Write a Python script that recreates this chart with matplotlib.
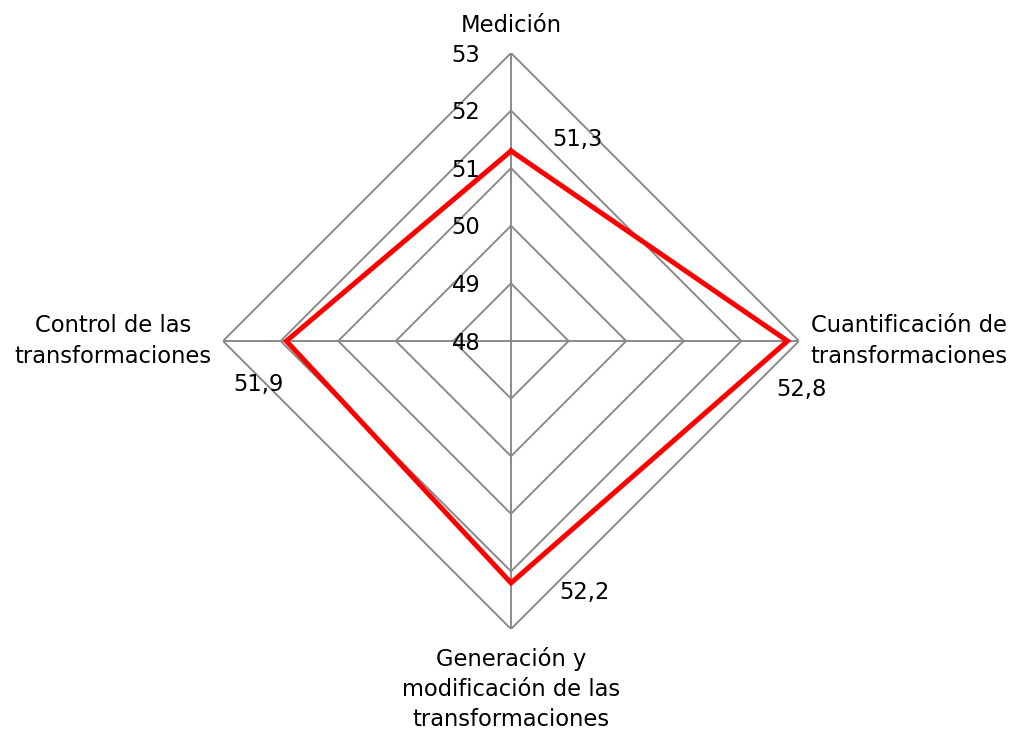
import matplotlib
matplotlib.use("Agg")
import matplotlib.pyplot as plt
import numpy as np

# categories clockwise from top
categories = ["Medición",
              "Cuantificación de\ntransformaciones",
              "Generación y\nmodificación de las\ntransformaciones",
              "Control de las\ntransformaciones"]
values = [51.3, 52.8, 52.2, 51.9]
value_labels = ["51,3", "52,8", "52,2", "51,9"]
levels = [49, 50, 51, 52, 53]
r_min, r_max = 48, 53

plt.rcParams['font.family'] = ['DejaVu Sans']
fs = 16.3

fig = plt.figure(figsize=(10.13, 7.31), dpi=100)
ax = fig.add_axes([223 / 1013, 102 / 731, 576 / 1013, 576 / 731], projection='polar')
ax.set_theta_offset(np.pi / 2)
ax.set_theta_direction(-1)
ax.set_ylim(r_min, r_max)
ax.axis('off')

n = len(categories)
theta = np.arange(n) * 2 * np.pi / n
theta_closed = np.append(theta, theta[0])

grid_color = '#8a8a8a'
# polygon grid
for lv in levels:
    ax.plot(theta_closed, [lv] * (n + 1), color=grid_color, lw=1.4, zorder=1)
# spokes
for t in theta:
    ax.plot([t, t], [r_min, r_max], color=grid_color, lw=1.4, zorder=1)

# series
vals_closed = values + values[:1]
ax.plot(theta_closed, vals_closed, color='#ff0000', lw=3.6, zorder=3,
        solid_joinstyle='miter')

# radial tick labels along the top spoke
for lv in [r_min] + levels:
    ax.annotate(str(lv), xy=(0, lv), xytext=(-22, -1.5), textcoords='offset points',
                ha='right', va='center', fontsize=fs, zorder=4)

# category labels
cat_offsets = [(0, 20), (8, 0), (0, -43), (-8, 0)]
cat_align = [('center', 'center'), ('left', 'center'), ('center', 'center'), ('right', 'center')]
for t, lab, off, (ha, va) in zip(theta, categories, cat_offsets, cat_align):
    ax.annotate(lab, xy=(t, r_max), xytext=off, textcoords='offset points',
                ha=ha, va=va, fontsize=fs, multialignment='center',
                linespacing=1.4)

# data labels
val_offsets = [(48, 8), (10, -35), (53, -7), (-20, -31)]
for t, v, lab, off in zip(theta, values, value_labels, val_offsets):
    ax.annotate(lab, xy=(t, v), xytext=off, textcoords='offset points',
                ha='center', va='center', fontsize=fs, zorder=4)

fig.savefig('out.png', dpi=100)
